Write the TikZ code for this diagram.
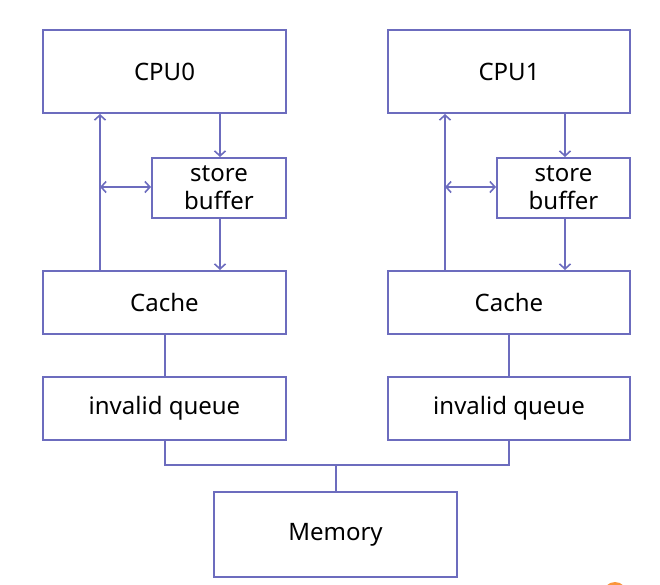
\documentclass[tikz,border=0pt]{standalone}
\usepackage{fontspec}
\setmainfont{Noto Sans}
\usetikzlibrary{arrows.meta}
\definecolor{edge}{RGB}{108,108,190}
\definecolor{dot}{RGB}{250,150,60}
\begin{document}
\begin{tikzpicture}[x=1pt,y=-1pt,
  box/.style={draw=edge,line width=2pt,inner sep=0pt,font=\fontsize{24}{28}\selectfont,align=center},
  link/.style={draw=edge,line width=2pt},
  tip/.style={-{Straight Barb[length=5pt,width=11pt,line width=1.6pt]}},
  twotip/.style={{Straight Barb[length=5pt,width=11pt,line width=1.6pt]}-{Straight Barb[length=5pt,width=11pt,line width=1.6pt]}}]
\useasboundingbox (0,0) rectangle (660,585);
% left core
\node[box,minimum width=243pt,minimum height=83pt] (cpu0) at (164.5,71.5) {CPU0};
\node[box,minimum width=134pt,minimum height=60pt] (sb0) at (219,188) {store\\buffer};
\node[box,minimum width=243pt,minimum height=63pt] (c0) at (164.5,302.5) {Cache};
\node[box,minimum width=243pt,minimum height=63pt] (q0) at (164.5,408.5) {invalid queue};
% right core
\node[box,minimum width=242pt,minimum height=83pt] (cpu1) at (509,71.5) {CPU1};
\node[box,minimum width=133pt,minimum height=60pt] (sb1) at (563.5,188) {store\\buffer};
\node[box,minimum width=242pt,minimum height=63pt] (c1) at (509,302.5) {Cache};
\node[box,minimum width=242pt,minimum height=63pt] (q1) at (509,408.5) {invalid queue};
% memory
\node[box,minimum width=243pt,minimum height=85pt] (mem) at (335.5,534.5) {Memory};
% store path and load path, left core
\draw[link,tip] (cpu0.south -| 220,0) -- (sb0.north -| 220,0);
\draw[link,tip] (sb0.south -| 220,0) -- (c0.north -| 220,0);
\draw[link,tip] (c0.north -| 100,0) -- (cpu0.south -| 100,0);
\draw[link,twotip] (100,187) -- (sb0.west |- 0,187);
% store path and load path, right core
\draw[link,tip] (cpu1.south -| 565,0) -- (sb1.north -| 565,0);
\draw[link,tip] (sb1.south -| 565,0) -- (c1.north -| 565,0);
\draw[link,tip] (c1.north -| 445,0) -- (cpu1.south -| 445,0);
\draw[link,twotip] (445,187) -- (sb1.west |- 0,187);
% cache to queue
\draw[link] (c0.south) -- (q0.north);
\draw[link] (c1.south) -- (q1.north);
% shared bus to memory
\coordinate (busl) at (q0.south |- 0,465);
\coordinate (busr) at (q1.south |- 0,465);
\draw[link] (q0.south) -- (busl) -- (busr) -- (q1.south);
\draw[link] (mem.north) -- (mem.north |- busl);
% small orange mark at the bottom edge
\begin{scope}
\clip (0,0) rectangle (660,585);
\fill[dot] (615,594) circle (12pt);
\end{scope}
\end{tikzpicture}
\end{document}
